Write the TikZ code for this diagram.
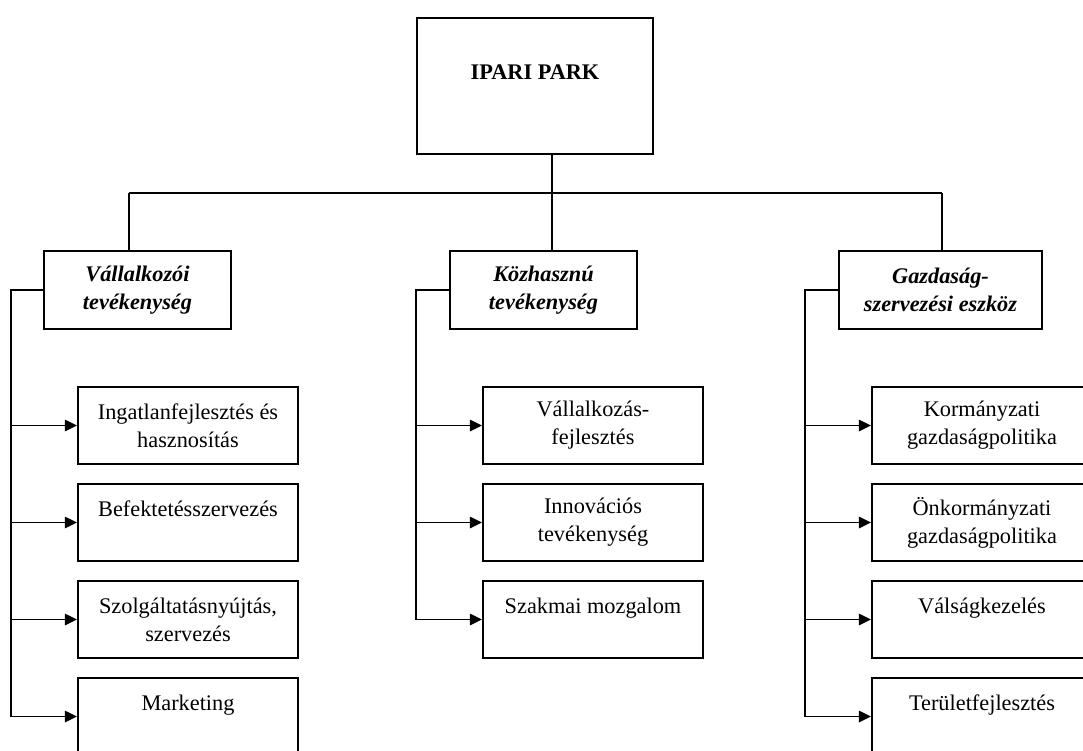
\documentclass[tikz,border=0pt]{standalone}
\usepackage{fontspec}
\setmainfont{Liberation Serif}
\usetikzlibrary{arrows.meta}
\def\boxfont{\fontsize{12.7pt}{15.9pt}\selectfont}
\tikzset{
  box/.style={draw, line width=1.1pt, align=center, inner sep=0pt},
  park/.style={box, minimum width=4.72cm, minimum height=2.72cm, font=\boxfont\bfseries},
  cat/.style={box, minimum height=1.56cm, font=\boxfont\bfseries\itshape},
  leaf/.style={box, minimum width=4.4cm, minimum height=1.54cm, font=\boxfont},
  conn/.style={line width=1.1pt},
  arr/.style={conn, -{Triangle[length=7pt,width=6.5pt]}},
}
\newcommand{\leafbox}[5]{%
  \node[leaf] (#1) at (#2,#3) {#4};%
  \draw[arr] (#5 |- #1.west) -- (#1.west);}
\begin{document}
\begin{tikzpicture}[x=0.02cm, y=-0.02cm]
\useasboundingbox (0,0) rectangle (1083,751);
\clip (0,0) rectangle (1083,751);

% ===================== TOP =====================
\node[park] (park) at (535,86) {IPARI PARK\\\mbox{}};

\coordinate (hub) at (552,193);
\coordinate (jL) at (129,193);
\coordinate (jR) at (942,193);

\node[cat, minimum width=3.74cm] (vall) at (137.5,290) {V\'allalkoz\'oi\\tev\'ekenys\'eg};
\node[cat, minimum width=3.74cm] (kozh) at (543.5,290) {K\"ozhaszn\'u\\tev\'ekenys\'eg};
\node[cat, minimum width=4.06cm] (gazd) at (940.5,290) {Gazdas\'ag-\\szervez\'esi eszk\"oz};

\draw[conn] (hub |- park.south) -- (hub |- kozh.north);
\draw[conn] (jL) -- (jR);
\draw[conn] (jL) -- (jL |- vall.north);
\draw[conn] (jR) -- (jR |- gazd.north);

% ===================== LEFT =====================
\coordinate (bL) at (11,290);
\leafbox{vL1}{188}{425.5}{Ingatlanfejleszt\'es \'es\\hasznos\'it\'as}{bL}
\leafbox{vL2}{188}{522.5}{Befektet\'esszervez\'es\\\mbox{}}{bL}
\leafbox{vL3}{188}{619.5}{Szolg\'altat\'asny\'ujt\'as,\\szervez\'es}{bL}
\leafbox{vL4}{188}{716.5}{Marketing\\\mbox{}}{bL}
\draw[conn] (vall.west) -| (bL |- vL4.west);

% ===================== MIDDLE =====================
\coordinate (bM) at (416,290);
\leafbox{kM1}{593}{425.5}{V\'allalkoz\'as-\\fejleszt\'es}{bM}
\leafbox{kM2}{593}{522.5}{Innov\'aci\'os\\tev\'ekenys\'eg}{bM}
\leafbox{kM3}{593}{619.5}{Szakmai mozgalom\\\mbox{}}{bM}
\draw[conn] (kozh.west) -| (bM |- kM3.west);

% ===================== RIGHT =====================
\coordinate (bR) at (805,290);
\leafbox{gR1}{982}{425.5}{Korm\'anyzati\\gazdas\'agpolitika}{bR}
\leafbox{gR2}{982}{522.5}{\"Onkorm\'anyzati\\gazdas\'agpolitika}{bR}
\leafbox{gR3}{982}{619.5}{V\'als\'agkezel\'es\\\mbox{}}{bR}
\leafbox{gR4}{982}{716.5}{Ter\"uletfejleszt\'es\\\mbox{}}{bR}
\draw[conn] (gazd.west) -| (bR |- gR4.west);

\end{tikzpicture}
\end{document}
